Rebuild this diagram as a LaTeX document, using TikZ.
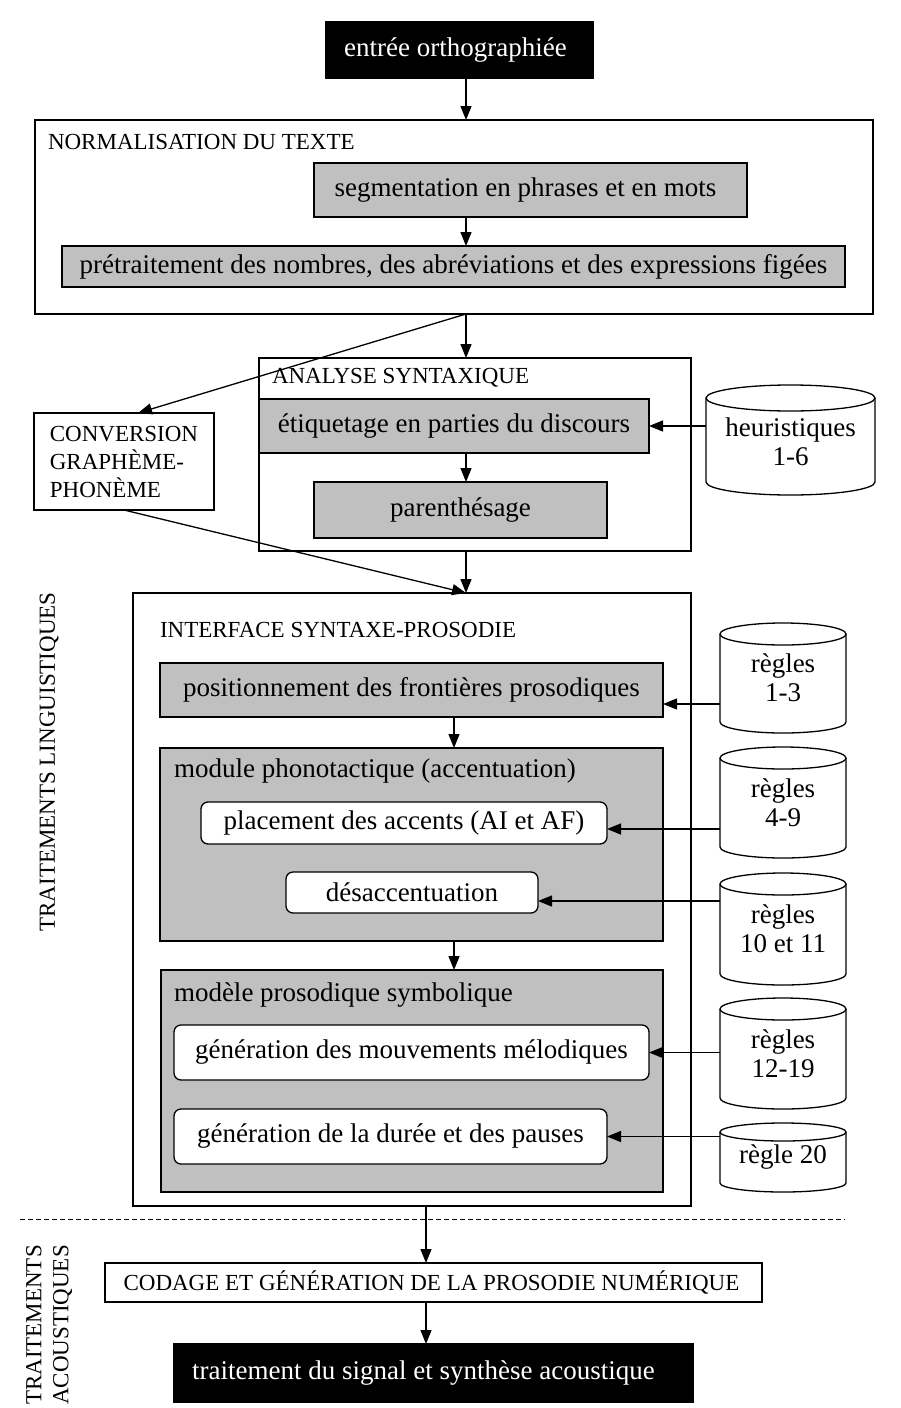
\documentclass[tikz,border=0pt]{standalone}
\usepackage{fontspec}
\setmainfont{Liberation Serif}
\usetikzlibrary{arrows.meta}
\definecolor{boxgray}{HTML}{C0C0C0}
\newcommand\drawcyl[3]{%
  \draw[cylline] ([yshift=-#3pt]#1.north west) -- ([yshift=#3pt]#1.south west)
    arc[start angle=180,end angle=360,x radius=#2pt,y radius=#3pt]
    -- ([yshift=-#3pt]#1.north east);
  \draw[cylline] ([yshift=-#3pt]#1.north) ellipse[x radius=#2pt,y radius=#3pt];}
\begin{document}
\begin{tikzpicture}[x=1pt,y=-1pt,
  every node/.style={inner sep=0pt,outer sep=0pt},
  body/.style={font=\fontsize{27}{30}\selectfont},
  caps/.style={font=\fontsize{23}{28}\selectfont},
  base/.style={draw,line width=1.3pt,anchor=north west,body,align=center},
  graybox/.style={base,fill=boxgray},
  roundbox/.style={base,fill=white,rounded corners=7pt},
  blackbox/.style={base,fill=black,text=white},
  framebox/.style={draw,line width=1.3pt,anchor=north west},
  capsbox/.style={draw,line width=1.3pt,anchor=north west,caps,align=left},
  titlelabel/.style={anchor=west},
  cylnode/.style={anchor=north west,font=\fontsize{27}{29}\selectfont,align=center},
  cylline/.style={draw,line width=1.3pt},
  sidelabel/.style={caps,rotate=90,align=center},
  arr/.style={line width=1.3pt,-{Triangle[length=14pt,width=11pt]}},
  sep/.style={line width=1pt,dash pattern=on 5pt off 3pt},
]
\useasboundingbox[fill=white] (0,0) rectangle (901,1408);

% axes
\coordinate (axA) at (466,0);
\coordinate (axB) at (454,0);
\coordinate (axC) at (426,0);

% top
\node[blackbox,minimum width=267,minimum height=56] (ent) at (326,22) {entrée orthographiée\hspace*{8pt}};

% normalisation
\node[framebox,minimum width=838,minimum height=194] (norm) at (35,120) {};
\node[titlelabel,caps] (normt) at (48,142) {NORMALISATION DU TEXTE};
\node[graybox,minimum width=433,minimum height=54] (seg) at (314,163) {segmentation en phrases et en mots\hspace*{10pt}};
\node[graybox,minimum width=783,minimum height=41] (pre) at (62,246) {prétraitement des nombres, des abréviations et des expressions figées};

% analyse syntaxique
\node[framebox,minimum width=432,minimum height=193] (ana) at (259,358) {};
\node[titlelabel,caps] (anat) at (272,378) {ANALYSE SYNTAXIQUE};
\node[graybox,minimum width=390,minimum height=54] (eti) at (259,399) {étiquetage en parties du discours};
\node[graybox,minimum width=293,minimum height=56] (par) at (314,482) {parenthésage};
\node[cylnode,minimum width=169,minimum height=110] (heu) at (706,385) {\\[-6pt]heuristiques\\1-6};
\drawcyl{heu}{84.5}{13}

% conversion
\node[capsbox,minimum width=180,minimum height=97] (conv) at (34,413) {CONVERSION\\GRAPHÈME-\\PHONÈME};

% interface
\node[framebox,minimum width=558,minimum height=613] (inter) at (133,593) {};
\node[titlelabel,caps] (intert) at (160,630) {INTERFACE SYNTAXE-PROSODIE};
\node[graybox,minimum width=503,minimum height=54] (pos) at (160,663) {positionnement des frontières prosodiques};
\node[framebox,fill=boxgray,minimum width=503,minimum height=193] (mod) at (160,748) {};
\node[titlelabel,body] (modt) at (174,771) {module phonotactique (accentuation)};
\node[roundbox,minimum width=406,minimum height=42] (plac) at (201,802) {placement des accents (AI et AF)};
\node[roundbox,minimum width=252,minimum height=41] (des) at (286,872) {désaccentuation};
\node[framebox,fill=boxgray,minimum width=502,minimum height=222] (msym) at (161,970) {};
\node[titlelabel,body] (msymt) at (174,995) {modèle prosodique symbolique};
\node[roundbox,minimum width=475,minimum height=55] (gmv) at (174,1025) {génération des mouvements mélodiques};
\node[roundbox,minimum width=433,minimum height=55] (gdu) at (174,1109) {génération de la durée et des pauses};

% rule cylinders
\node[cylnode,minimum width=126,minimum height=110] (r1) at (720,623) {règles\\1-3};
\drawcyl{r1}{63}{11}
\node[cylnode,minimum width=126,minimum height=111] (r2) at (720,747) {règles\\4-9};
\drawcyl{r2}{63}{11}
\node[cylnode,minimum width=126,minimum height=112] (r3) at (720,873) {règles\\10 et 11};
\drawcyl{r3}{63}{11}
\node[cylnode,minimum width=126,minimum height=111] (r4) at (720,998) {règles\\12-19};
\drawcyl{r4}{63}{11}
\node[cylnode,minimum width=126,minimum height=69] (r5) at (720,1123) {règle 20};
\drawcyl{r5}{63}{9}

% acoustic part
\node[capsbox,align=center,minimum width=657,minimum height=39] (cod) at (105,1263) {CODAGE ET GÉNÉRATION DE LA PROSODIE NUMÉRIQUE\hspace*{4pt}};
\node[blackbox,minimum width=519,minimum height=58] (sig) at (174,1344) {traitement du signal et synthèse acoustique\hspace*{20pt}};

% side labels
\node[sidelabel] (tling) at (49,762) {TRAITEMENTS LINGUISTIQUES};
\node[sidelabel,font=\fontsize{23}{27}\selectfont] (tacou) at (49,1325) {TRAITEMENTS\\ACOUSTIQUES};

% separator
\coordinate (sepL) at (20,1219);
\coordinate (sepR) at (845,1219);
\draw[sep] (sepL) -- (sepR);

% connectors
\coordinate (cvin) at ([xshift=14pt]conv.north);
\coordinate (p1) at ([yshift=-14pt]pos.east);
\coordinate (p2) at ([yshift=-6pt]plac.east);
\coordinate (p3) at ([yshift=-8.5pt]des.east);
\draw[arr] (ent.south -| axA) -- (norm.north -| axA);
\draw[arr] (seg.south -| axA) -- (pre.north -| axA);
\draw[arr] (norm.south -| axA) -- (ana.north -| axA);
\draw[arr] (norm.south -| axA) -- (cvin);
\draw[arr] (heu.west |- eti.east) -- (eti.east);
\draw[arr] (eti.south -| axA) -- (par.north -| axA);
\draw[arr] (ana.south -| axA) -- (inter.north -| axA);
\draw[arr] (conv.south) -- (inter.north -| axA);
\draw[arr] (r1.west |- p1) -- (p1);
\draw[arr] (pos.south -| axB) -- (mod.north -| axB);
\draw[arr] (r2.west |- p2) -- (p2);
\draw[arr] (r3.west |- p3) -- (p3);
\draw[arr] (mod.south -| axB) -- (msym.north -| axB);
\draw[arr] (r4.west |- gmv.east) -- (gmv.east);
\draw[arr] (r5.west |- gdu.east) -- (gdu.east);
\draw[arr] (inter.south -| axC) -- (cod.north -| axC);
\draw[arr] (cod.south -| axC) -- (sig.north -| axC);
\end{tikzpicture}
\end{document}
